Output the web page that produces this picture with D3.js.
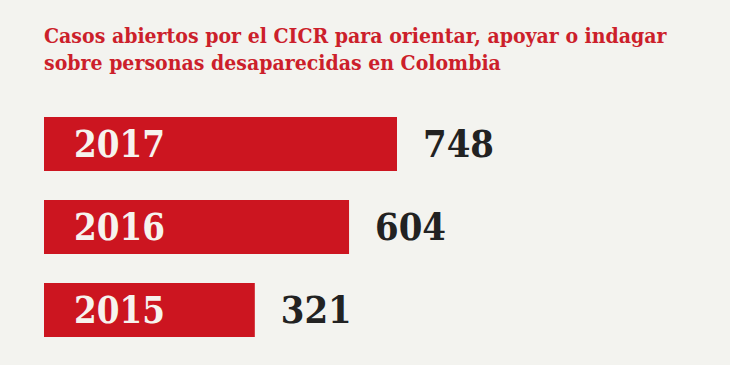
<!DOCTYPE html>
<html><head><meta charset="utf-8">
<script src="https://cdn.jsdelivr.net/npm/d3@7"></script>
<style>
html,body{margin:0;padding:0;background:#f3f3ef;}
svg{display:block;}
</style></head>
<body>
<svg id="chart" width="730" height="365"></svg>
<script>
const titleLines = ["Casos abiertos por el CICR para orientar, apoyar o indagar", "sobre personas desaparecidas en Colombia"];
const years = ["2017", "2016", "2015"];
const cases = [748, 604, 321];

const W = 730, H = 365;
const svg = d3.select("#chart");
svg.append("rect").attr("width", W).attr("height", H).attr("fill", "#f3f3ef");

const red = "#cc1520";
const font = "'DejaVu Serif Condensed', 'DejaVu Serif', serif";

function fit(sel, base, target) {
  const w = sel.nodes()[0].getComputedTextLength();
  sel.attr("font-size", base * target / w);
}

// title
const tl = svg.append("g").selectAll("text").data(titleLines).join("text")
  .attr("x", 44).attr("y", (d, i) => 43 + i * 26.5)
  .attr("fill", "#cc1f2b").attr("font-family", font).attr("font-weight", "bold")
  .attr("font-size", 20).text(d => d);
fit(tl, 20, 623);

const x = d3.scaleLinear().domain([-312, 748]).range([44, 397]);
const yTop = d3.scalePoint().domain(years).range([117, 283]);
const barH = 54;

const rows = svg.append("g").selectAll("g.row").data(years).join("g").attr("class", "row");
rows.append("rect")
  .attr("x", x(x.domain()[0]))
  .attr("y", d => yTop(d))
  .attr("width", (d, i) => x(cases[i]) - x(x.domain()[0]))
  .attr("height", barH)
  .attr("fill", red);
const yl = rows.append("text")
  .attr("x", 74).attr("y", d => yTop(d) + barH / 2 + 13)
  .attr("fill", "#f6f3ee").attr("font-family", font).attr("font-weight", "bold")
  .attr("font-size", 36).text(d => d);
fit(yl, 36, 91);
const vl = rows.append("text")
  .attr("x", (d, i) => x(cases[i]) + 26).attr("y", d => yTop(d) + barH / 2 + 13)
  .attr("fill", "#222222").attr("font-family", font).attr("font-weight", "bold")
  .attr("font-size", 37).text((d, i) => cases[i]);
fit(vl, 37, 71);
</script>
</body></html>
